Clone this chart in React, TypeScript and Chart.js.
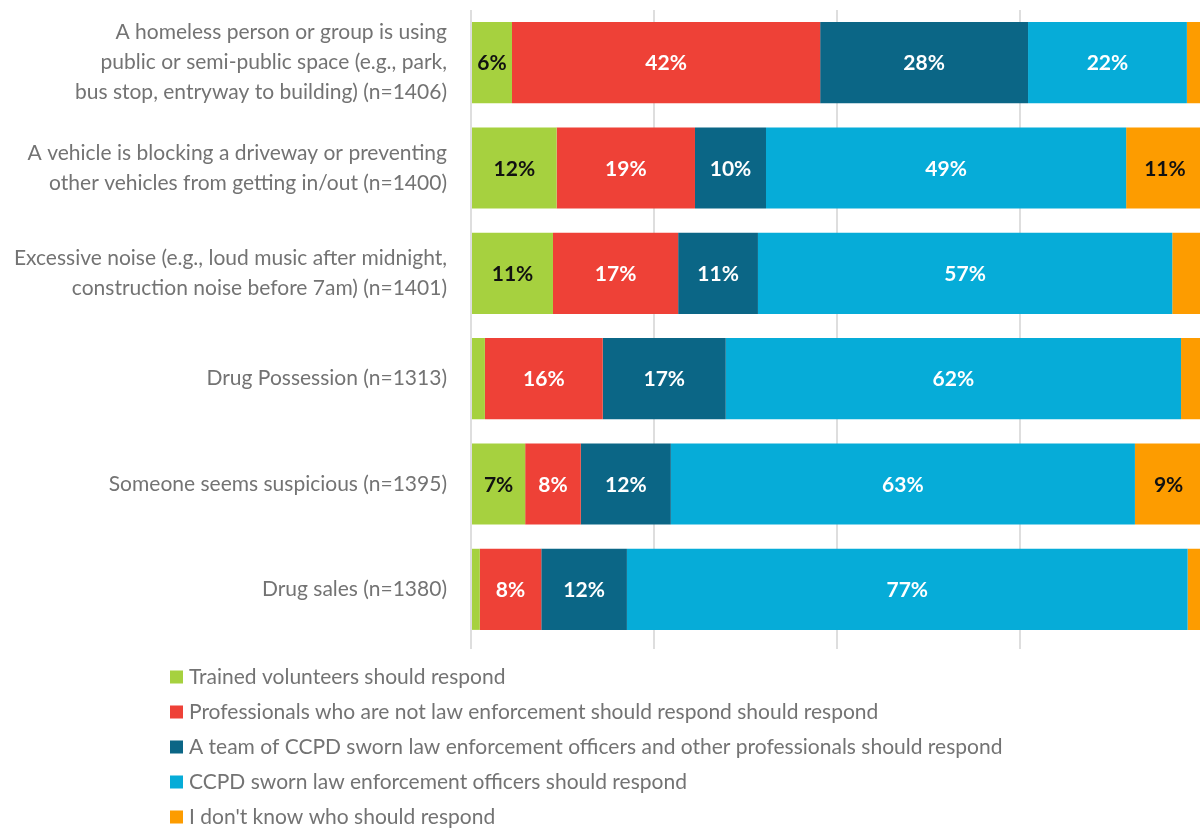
import React, { useEffect, useRef } from "react";
import { Chart, registerables } from "chart.js";

Chart.register(...registerables);

const categories: (string | string[])[] = [
  ["A homeless person or group is using", "public or semi-public space (e.g., park,", "bus stop, entryway to building) (n=1406)"],
  ["A vehicle is blocking a driveway or preventing", "other vehicles from getting in/out (n=1400)"],
  ["Excessive noise (e.g., loud music after midnight,", "construction noise before 7am) (n=1401)"],
  "Drug Possession (n=1313)",
  "Someone seems suspicious (n=1395)",
  "Drug sales (n=1380)",
];

const seriesNames = [
  "Trained volunteers should respond",
  "Professionals who are not law enforcement should respond should respond",
  "A team of CCPD sworn law enforcement officers and other professionals should respond",
  "CCPD sworn law enforcement officers should respond",
  "I don't know who should respond",
];

const volunteers = [5.6, 11.7, 11.2, 1.9, 7.4, 1.2];
const professionals = [42.1, 18.9, 17.1, 16.1, 7.6, 8.4];
const team = [28.4, 9.7, 10.9, 16.8, 12.3, 11.7];
const officers = [21.7, 49.2, 56.6, 62.2, 63.4, 76.6];
const dontKnow = [2.1, 10.6, 4.2, 3.0, 9.2, 1.9];

const colors = ["#a6d13f", "#ee4137", "#0b6686", "#06acd8", "#fd9c00"];
const labelColors = ["#111111", "#ffffff", "#ffffff", "#ffffff", "#111111"];

const FONT = "Lato, 'Open Sans', sans-serif";

const labelPlugin = {
  id: "barLabels",
  afterDatasetsDraw(chart: any) {
    const ctx = chart.ctx;
    ctx.save();
    ctx.font = `bold 21px ${FONT}`;
    ctx.textAlign = "center";
    ctx.textBaseline = "middle";
    chart.data.datasets.forEach((ds: any, i: number) => {
      const meta = chart.getDatasetMeta(i);
      meta.data.forEach((bar: any, j: number) => {
        const v = ds.data[j] as number;
        if (v < 5) return;
        const cx = (bar.x + bar.base) / 2;
        ctx.fillStyle = labelColors[i];
        ctx.fillText(`${Math.round(v)}%`, cx, bar.y + 1);
      });
    });
    ctx.restore();
  },
};

const legendPlugin = {
  id: "vertLegend",
  afterDraw(chart: any) {
    const ctx = chart.ctx;
    ctx.save();
    ctx.font = `21px ${FONT}`;
    ctx.textAlign = "left";
    ctx.textBaseline = "middle";
    const top = chart.chartArea.bottom + 35;
    chart.data.datasets.forEach((ds: any, i: number) => {
      const y = top + i * 35;
      ctx.fillStyle = ds.backgroundColor;
      ctx.fillRect(170, y - 6.5, 13, 13);
      ctx.fillStyle = "#737373";
      ctx.fillText(ds.label, 189, y);
    });
    ctx.restore();
  },
};

export default function App() {
  const ref = useRef<HTMLCanvasElement | null>(null);
  useEffect(() => {
    if (!ref.current) return;
    const values = [volunteers, professionals, team, officers, dontKnow];
    const chart = new Chart(ref.current, {
      type: "bar",
      data: {
        labels: categories,
        datasets: values.map((d, i) => ({
          label: seriesNames[i],
          data: d,
          backgroundColor: colors[i],
          borderWidth: 0,
          barPercentage: 0.77,
          categoryPercentage: 1,
        })),
      },
      options: {
        indexAxis: "y",
        responsive: false,
        animation: false,
        layout: { padding: { top: 10, right: 7, bottom: 180, left: 0 } },
        plugins: {
          legend: { display: false },
          tooltip: { enabled: false },
        },
        scales: {
          x: {
            stacked: true,
            min: 0,
            max: 100,
            ticks: { display: false, stepSize: 25 },
            grid: { color: "#dedede", lineWidth: 2, drawTicks: true, tickLength: 7 },
            border: { display: false },
          },
          y: {
            stacked: true,
            grid: { display: false, drawTicks: false },
            border: { display: false },
            ticks: {
              color: "#737373",
              padding: 24,
              font: { family: FONT, size: 21, lineHeight: 1.43 },
            },
            afterFit: (s: any) => {
              s.width = 471;
              s.paddingTop = 0;
              s.paddingBottom = 0;
            },
          },
        },
      },
      plugins: [labelPlugin, legendPlugin],
    });
    return () => chart.destroy();
  }, []);
  return (
    <div style={{ position: "fixed", left: 0, top: 0, width: 1200, height: 829, overflow: "hidden", background: "#fff" }}>
      <canvas ref={ref} width={1210} height={829} style={{ display: "block" }} />
    </div>
  );
}
